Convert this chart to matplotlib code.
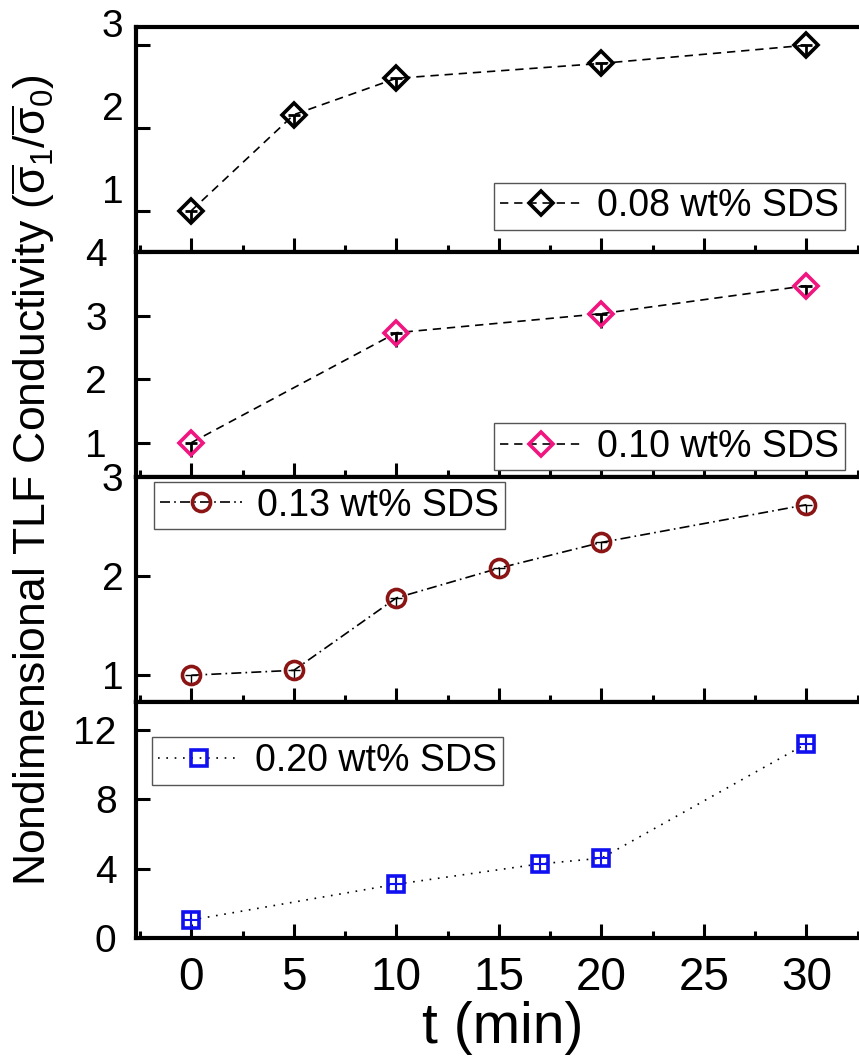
import matplotlib
matplotlib.use('Agg')
import matplotlib.pyplot as plt
import numpy as np

plt.rcParams['font.family'] = ['Liberation Sans', 'DejaVu Sans']
plt.rcParams['mathtext.fontset'] = 'custom'
plt.rcParams['mathtext.rm'] = 'Liberation Sans'
plt.rcParams['mathtext.it'] = 'Liberation Sans'

# ---- data ----
t1 = [0, 5, 10, 20, 30]
y1 = [1.0, 2.16, 2.60, 2.78, 3.00]
e1 = [0.12, 0.12, 0.12, 0.12, 0.12]

t2 = [0, 10, 20, 30]
y2 = [1.0, 2.73, 3.03, 3.47]
e2 = [0.22, 0.22, 0.22, 0.20]

t3 = [0, 5, 10, 15, 20, 30]
y3 = [1.0, 1.05, 1.78, 2.08, 2.34, 2.72]
e3 = [0.08, 0.08, 0.08, 0.08, 0.08, 0.08]

t4 = [0, 10, 17, 20, 30]
y4 = [1.04, 3.1, 4.27, 4.6, 11.2]
e4 = [0.5, 0.5, 0.5, 0.5, 0.5]

labels = ['0.08 wt% SDS', '0.10 wt% SDS', '0.13 wt% SDS', '0.20 wt% SDS']
xticks = [0, 5, 10, 15, 20, 25, 30]
yticks = [[1, 2, 3], [1, 2, 3, 4], [1, 2, 3], [0, 4, 8, 12]]
ylims = [(0.5, 3.22), (0.46, 4.0), (0.73, 3.0), (0, 13.6)]

W, H = 859., 1062.
fig = plt.figure(figsize=(W/100, H/100), dpi=100)

# panel edges in pixels (top, bottom)
edges = [(27, 252), (252, 477), (477, 702), (702, 938)]
left_px, right_px = 136., 870.

series = [
    (t1, y1, e1, 'D', 'black', (0, (5, 3.5)), 'lower right', (0.966, 0.098), 9),
    (t2, y2, e2, 'D', '#F0157F', (0, (5, 3.5)), 'lower right', (0.966, 0.03), 21),
    (t3, y3, e3, 'o', '#8B1414', (0, (6, 2.5, 1, 2.5)), 'upper left', (0.025, 0.978), 9),
    (t4, y4, e4, 's', '#1010F0', (0, (1, 4)), 'upper left', (0.022, 0.85), 14),
]
msizes = {'D': 12.5, 'o': 13, 's': 12}

axes = []
for i, (tt, yy, ee, mk, col, ls, lloc, anchor, ypad) in enumerate(series):
    top, bot = edges[i]
    ax = fig.add_axes([left_px/W, 1-bot/H, (right_px-left_px)/W, (bot-top)/H])
    axes.append(ax)
    tt = np.array(tt); yy = np.array(yy); ee = np.array(ee)
    if i < 3:
        # lower error stem with cap at the point (the little "T")
        ax.errorbar(tt, yy, yerr=[ee, np.zeros_like(ee)], fmt='none',
                    ecolor='black', elinewidth=2 if i < 2 else 1, capsize=0, zorder=2)
        ax.plot(tt, yy, ls='none', marker='_', ms=9, mew=2 if i < 2 else 1,
                color='black', zorder=2)
    else:
        ax.errorbar(tt, yy, yerr=ee, fmt='none', ecolor=col, elinewidth=1.5,
                    capsize=0, zorder=2)
        ax.plot(tt, yy, ls='none', marker='_', ms=11, mew=1.5, color=col, zorder=2)
    ax.plot(tt, yy, color='black', lw=1.2, ls=ls, zorder=1)
    ax.plot(tt, yy, ls='none', marker=mk, ms=msizes[mk], mfc='none', mec=col,
            mew=2.6, zorder=3)
    h, = ax.plot([], [], color='black', lw=1.2, ls=ls, marker=mk, ms=msizes[mk],
                 mfc='none', mec=col, mew=2.6)
    leg = ax.legend([h], [labels[i]], loc=lloc, bbox_to_anchor=anchor,
                    borderaxespad=0, fontsize=27, handlelength=2.2,
                    handletextpad=0.4, borderpad=0.15, fancybox=False,
                    framealpha=1, edgecolor='#555555')
    leg.get_frame().set_linewidth(1.0)

    ax.set_xlim(-2.7, 33.1)
    ax.set_ylim(*ylims[i])
    ax.set_xticks(xticks)
    ax.set_xticks(np.arange(-2.5, 33, 5), minor=True)
    ax.set_yticks(yticks[i])
    ax.tick_params(axis='x', which='major', direction='in', length=10, width=2.2,
                   top=False, labelsize=33, pad=13, labelbottom=(i == 3))
    ax.tick_params(axis='x', which='minor', direction='in', length=5, width=2.2,
                   top=False)
    ax.tick_params(axis='y', which='major', direction='in', length=10, width=2.2,
                   right=False, labelsize=28, pad=ypad)
    for s in ax.spines.values():
        s.set_linewidth(3)
    ax.spines['right'].set_visible(False)
    if i == 0:
        for lab in ax.get_yticklabels():
            lab.set_verticalalignment('bottom')

axes[3].set_xlabel('t (min)', fontsize=41, labelpad=1)
fig.text(0.038, 0.548,
         r'Nondimensional TLF Conductivity ($\overline{\sigma}_1/\overline{\sigma}_0$)',
         rotation=90, ha='center', va='center', fontsize=32)

fig.savefig('out.png', dpi=100)
